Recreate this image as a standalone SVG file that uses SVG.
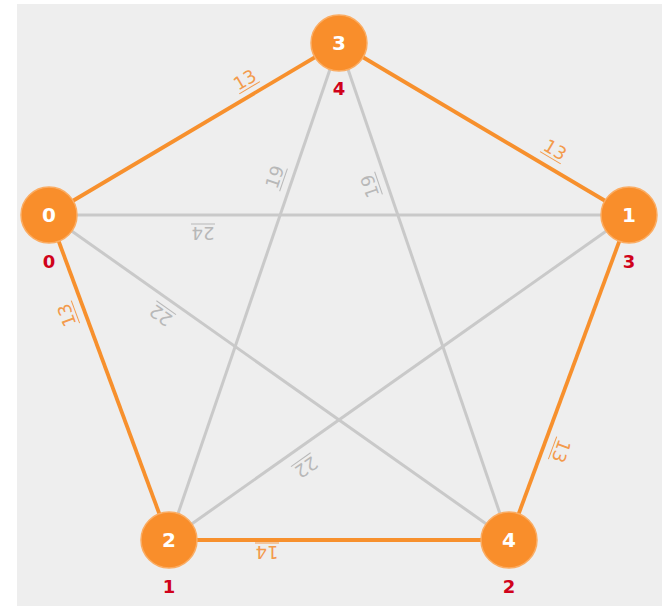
<svg xmlns="http://www.w3.org/2000/svg" width="670" height="613" viewBox="0 0 670 613">
<style>
.eo{stroke:#f7902d;stroke-width:3.8;fill:none}
.eg{stroke:#c9c9c9;stroke-width:3;fill:none}
.lo{fill:#f39a4c;font-family:"DejaVu Sans",sans-serif;font-size:18px;text-anchor:middle}
.lg{fill:#b8b8b8;font-family:"DejaVu Sans",sans-serif;font-size:18px;text-anchor:middle}
.uo{stroke:#f39a4c;stroke-width:1}
.ug{stroke:#b8b8b8;stroke-width:1}
.node circle{fill:#f98e2b;stroke:#fbac62;stroke-width:1.5}
.nt{fill:#ffffff;font-family:"DejaVu Sans",sans-serif;font-weight:bold;font-size:20px;text-anchor:middle}
.rt{fill:#d0021b;font-family:"DejaVu Sans",sans-serif;font-weight:bold;font-size:18px;text-anchor:middle}
</style>
<rect x="0" y="0" width="670" height="613" fill="#ffffff"/>
<rect x="17" y="4" width="645" height="602" fill="#eeeeee"/>
<g id="connectors">
<line class="eg" x1="49" y1="215" x2="629" y2="215"/>
<line class="eg" x1="49" y1="215" x2="509" y2="540"/>
<line class="eg" x1="629" y1="215" x2="169" y2="540"/>
<line class="eg" x1="339" y1="43" x2="169" y2="540"/>
<line class="eg" x1="339" y1="43" x2="509" y2="540"/>
<line class="eo" x1="49" y1="215" x2="339" y2="43"/>
<line class="eo" x1="339" y1="43" x2="629" y2="215"/>
<line class="eo" x1="629" y1="215" x2="509" y2="540"/>
<line class="eo" x1="509" y1="540" x2="169" y2="540"/>
<line class="eo" x1="169" y1="540" x2="49" y2="215"/>
<g transform="translate(245,80) rotate(-30.67)"><text class="lo" x="0" y="6">13</text><line class="uo" x1="-12" y1="9" x2="12" y2="9"/></g>
<g transform="translate(555,150) rotate(30.67)"><text class="lo" x="0" y="6">13</text><line class="uo" x1="-12" y1="9" x2="12" y2="9"/></g>
<g transform="translate(561,451) rotate(110.27)"><text class="lo" x="0" y="6">13</text><line class="uo" x1="-12" y1="9" x2="12" y2="9"/></g>
<g transform="translate(267,552) rotate(180)"><text class="lo" x="0" y="6">14</text><line class="uo" x1="-12" y1="9" x2="12" y2="9"/></g>
<g transform="translate(67,315) rotate(-110.27)"><text class="lo" x="0" y="6">13</text><line class="uo" x1="-12" y1="9" x2="12" y2="9"/></g>
<g transform="translate(203,233) rotate(180)"><text class="lg" x="0" y="6">24</text><line class="ug" x1="-12" y1="9" x2="12" y2="9"/></g>
<g transform="translate(161,315) rotate(-144.75)"><text class="lg" x="0" y="6">22</text><line class="ug" x1="-12" y1="9" x2="12" y2="9"/></g>
<g transform="translate(306,467) rotate(144.75)"><text class="lg" x="0" y="6">22</text><line class="ug" x1="-12" y1="9" x2="12" y2="9"/></g>
<g transform="translate(275,177) rotate(-71.11)"><text class="lg" x="0" y="6">19</text><line class="ug" x1="-12" y1="9" x2="12" y2="9"/></g>
<g transform="translate(370,186) rotate(-108.89)"><text class="lg" x="0" y="6">19</text><line class="ug" x1="-12" y1="9" x2="12" y2="9"/></g>
</g>
<g id="node0" class="node"><circle cx="49" cy="215" r="28"/><text class="nt" x="49" y="222">0</text><text class="rt" x="49" y="268">0</text></g>
<g id="node1" class="node"><circle cx="629" cy="215" r="28"/><text class="nt" x="629" y="222">1</text><text class="rt" x="629" y="268">3</text></g>
<g id="node2" class="node"><circle cx="169" cy="540" r="28"/><text class="nt" x="169" y="547">2</text><text class="rt" x="169" y="593">1</text></g>
<g id="node3" class="node"><circle cx="339" cy="43" r="28"/><text class="nt" x="339" y="50">3</text><text class="rt" x="339" y="95">4</text></g>
<g id="node4" class="node"><circle cx="509" cy="540" r="28"/><text class="nt" x="509" y="547">4</text><text class="rt" x="509" y="593">2</text></g>
</svg>
